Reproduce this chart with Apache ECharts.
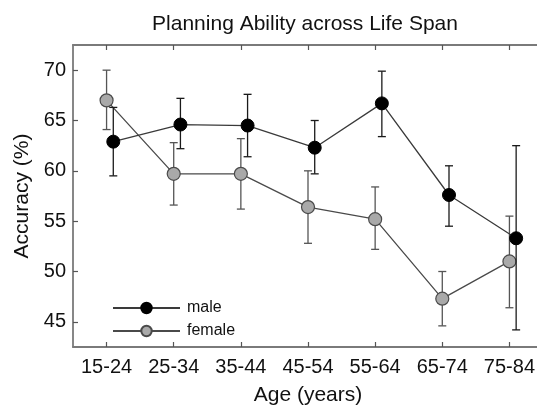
<!DOCTYPE html>
<html>
<head>
<meta charset="utf-8">
<title>Planning Ability across Life Span</title>
<script src="https://cdn.jsdelivr.net/npm/echarts@6/dist/echarts.min.js"></script>
<style>
    html, body { margin: 0; padding: 0; background: #fff; overflow: hidden; }
    #planningChart { width: 537px; height: 406px; }
</style>
</head>
<body>
<div id="planningChart"></div>
<script>
// 数据
const ageGroups = ['15-24', '25-34', '35-44', '45-54', '55-64', '65-74', '75-84'];
const maleMean = [62.9, 64.6, 64.5, 62.3, 66.7, 57.6, 53.3];
const maleLow = [59.5, 62.2, 61.4, 59.7, 63.4, 54.5, 44.2];
const maleHigh = [66.3, 67.2, 67.6, 65.0, 69.9, 60.5, 62.5];
const femaleMean = [67.0, 59.7, 59.7, 56.4, 55.2, 47.3, 51.0];
const femaleLow = [64.1, 56.6, 56.2, 52.8, 52.2, 44.6, 46.4];
const femaleHigh = [70.0, 62.8, 63.2, 60.0, 58.4, 50.0, 55.5];
const yTicks = [45, 50, 55, 60, 65, 70];

const FONT = 'Liberation Sans, Arial, sans-serif';
const MALE_SHIFT = 0.1; // male points are drawn slightly right of the tick
const tickIdx = ageGroups.map((_, i) => i);

function points(values, shift) {
    return values.map((v, i) => [i + shift, v]);
}

function bars(low, high, shift) {
    return low.map((v, i) => [i + shift, v, high[i]]);
}

// error bar drawing
function errorBarRenderer(color) {
    return function (params, api) {
        let x = api.value(0);
        let lo = api.coord([x, api.value(1)]);
        let hi = api.coord([x, api.value(2)]);
        let cap = 4;
        let style = { stroke: color, lineWidth: 1.3 };
        return {
            type: 'group',
            children: [
                { type: 'line', shape: { x1: lo[0], y1: lo[1], x2: hi[0], y2: hi[1] }, style: style },
                { type: 'line', shape: { x1: lo[0] - cap, y1: lo[1], x2: lo[0] + cap, y2: lo[1] }, style: style },
                { type: 'line', shape: { x1: hi[0] - cap, y1: hi[1], x2: hi[0] + cap, y2: hi[1] }, style: style }
            ]
        };
    };
}

let planningChart = echarts.init(document.getElementById('planningChart'));

let axisLineStyle = { color: '#7a7a7a', width: 1.8 };
let tickStyle = { color: '#555', width: 1.2 };

let planningOption = {
    animation: false,
    backgroundColor: '#fff',
    textStyle: { fontFamily: FONT },
    title: {
        text: 'Planning Ability across Life Span',
        left: 300,
        textAlign: 'center',
        top: 9,
        textStyle: { fontFamily: FONT, fontSize: 21, fontWeight: 'normal', color: '#111' }
    },
    legend: {
        data: ['male', 'female'],
        orient: 'vertical',
        left: 107,
        top: 295,
        itemWidth: 67,
        itemHeight: 13,
        itemGap: 7,
        textStyle: { fontFamily: FONT, fontSize: 16, color: '#111', padding: [0, 0, 0, 2] }
    },
    grid: {
        show: false,
        borderWidth: 0,
        left: 73,
        right: -6,
        top: 45,
        bottom: 59,
        outerBoundsMode: 'none'
    },
    xAxis: [
        {
            type: 'value',
            min: -0.5,
            max: 6.5,
            position: 'bottom',
            name: 'Age (years)',
            nameLocation: 'middle',
            nameGap: 38,
            nameTextStyle: { fontFamily: FONT, fontSize: 21, color: '#111' },
            axisLine: { show: true, onZero: false, lineStyle: axisLineStyle },
            axisTick: { show: true, inside: true, length: 5, customValues: tickIdx, lineStyle: tickStyle },
            axisLabel: {
                customValues: tickIdx,
                margin: 10,
                fontFamily: FONT,
                fontSize: 20,
                color: '#111',
                formatter: v => ageGroups[Math.round(v)]
            },
            splitLine: { show: false }
        },
        {
            type: 'value',
            min: -0.5,
            max: 6.5,
            position: 'top',
            axisLine: { show: true, onZero: false, lineStyle: axisLineStyle },
            axisTick: { show: true, inside: true, length: 5, customValues: tickIdx, lineStyle: tickStyle },
            axisLabel: { show: false },
            splitLine: { show: false }
        }
    ],
    yAxis: {
        type: 'value',
        min: 42.5,
        max: 72.5,
        name: 'Accuracy (%)',
        nameLocation: 'middle',
        nameGap: 39,
        nameTextStyle: { fontFamily: FONT, fontSize: 21, color: '#111' },
        axisLine: { show: true, onZero: false, lineStyle: axisLineStyle },
        axisTick: { show: true, inside: true, length: 5, customValues: yTicks, lineStyle: tickStyle },
        axisLabel: { customValues: yTicks, margin: 7, fontFamily: FONT, fontSize: 20, color: '#111' },
        splitLine: { show: false }
    },
    series: [
        {
            name: 'female-err',
            type: 'custom',
            renderItem: errorBarRenderer('#555'),
            data: bars(femaleLow, femaleHigh, 0),
            z: 2
        },
        {
            name: 'female',
            type: 'line',
            data: points(femaleMean, 0),
            symbol: 'circle',
            symbolSize: 13,
            lineStyle: { color: '#4a4a4a', width: 1.3 },
            itemStyle: { color: '#a9a9a9', borderColor: '#4a4a4a', borderWidth: 1.2 },
            z: 3
        },
        {
            name: 'male-err',
            type: 'custom',
            renderItem: errorBarRenderer('#1a1a1a'),
            data: bars(maleLow, maleHigh, MALE_SHIFT),
            z: 4
        },
        {
            name: 'male',
            type: 'line',
            data: points(maleMean, MALE_SHIFT),
            symbol: 'circle',
            symbolSize: 13,
            lineStyle: { color: '#3a3a3a', width: 1.3 },
            itemStyle: { color: '#000', borderColor: '#000', borderWidth: 1 },
            z: 5
        }
    ]
};

planningChart.setOption(planningOption);
</script>
</body>
</html>
